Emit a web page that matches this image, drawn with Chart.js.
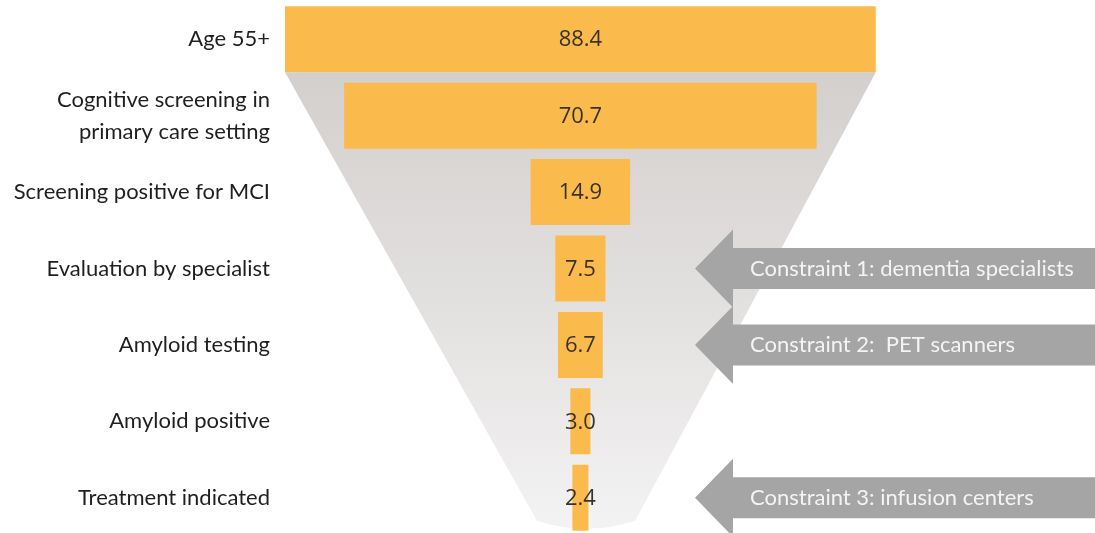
<!DOCTYPE html>
<html>
<head>
<meta charset="utf-8">
<script src="https://cdn.jsdelivr.net/npm/chart.js@4"></script>
<style>
  html, body { margin: 0; padding: 0; background: #ffffff; overflow: hidden; }
  #wrap { width: 1095px; height: 536px; position: relative; }
</style>
</head>
<body>
<div id="wrap"><canvas id="funnel"></canvas></div>
<script>
// Patient pathway stages (millions) and the capacity constraints along it
const stages = [
  'Age 55+',
  ['Cognitive screening in', 'primary care setting'],
  'Screening positive for MCI',
  'Evaluation by specialist',
  'Amyloid testing',
  'Amyloid positive',
  'Treatment indicated'
];
const counts = [88.4, 70.7, 14.9, 7.5, 6.7, 3.0, 2.4];
const constraintLabels = [
  'Constraint 1: dementia specialists',
  'Constraint 2:  PET scanners',
  'Constraint 3: infusion centers'
];
const constraintStages = [3, 4, 6];

// Each bar is centred on zero so the stack reads as a funnel
const centredBars = counts.map(v => [-v / 2, v / 2]);

// Grey cone behind the bars, running from the widest bar down to a narrow neck
const funnelBackdrop = {
  id: 'funnelBackdrop',
  beforeDatasetsDraw(chart) {
    const meta = chart.getDatasetMeta(0);
    const first = meta.data[0];
    const last = meta.data[meta.data.length - 1];
    const xs = chart.scales.x;
    const ctx = chart.ctx;
    const top = first.y + first.height / 2;
    const bottom = last.y + last.height / 2 - 10;
    const l0 = xs.getPixelForValue(-counts[0] / 2);
    const r0 = xs.getPixelForValue(counts[0] / 2);
    const l1 = xs.getPixelForValue(-6.5);
    const r1 = xs.getPixelForValue(8.2);
    const g = ctx.createLinearGradient(0, top, 0, bottom);
    g.addColorStop(0, '#d3cfcd');
    g.addColorStop(0.5, '#e2e0df');
    g.addColorStop(1, '#f3f2f2');
    ctx.save();
    ctx.beginPath();
    ctx.moveTo(l0, top);
    ctx.lineTo(r0, top);
    ctx.lineTo(r1, bottom);
    ctx.quadraticCurveTo((l1 + r1) / 2, bottom + 16, l1, bottom);
    ctx.closePath();
    ctx.fillStyle = g;
    ctx.fill();
    ctx.restore();
  }
};

// Value printed in the middle of every bar
const barValues = {
  id: 'barValues',
  afterDatasetsDraw(chart) {
    const meta = chart.getDatasetMeta(0);
    const ctx = chart.ctx;
    ctx.save();
    ctx.font = '22px "Open Sans", sans-serif';
    ctx.fillStyle = '#3a3228';
    ctx.textAlign = 'center';
    ctx.textBaseline = 'middle';
    meta.data.forEach((bar, i) => {
      ctx.fillText(counts[i].toFixed(1), (bar.x + bar.base) / 2, bar.y + 1);
    });
    ctx.restore();
  }
};

// Left-pointing grey arrows marking each constraint
const constraintArrows = {
  id: 'constraintArrows',
  afterDatasetsDraw(chart, args, opts) {
    const ctx = chart.ctx;
    const ys = chart.scales.y;
    const right = chart.width;
    ctx.save();
    constraintStages.forEach((stage, i) => {
      const cy = ys.getPixelForValue(stage);
      ctx.beginPath();
      ctx.moveTo(opts.tipX, cy);
      ctx.lineTo(opts.headX, cy - opts.headHalf);
      ctx.lineTo(opts.headX, cy - opts.bodyHalf);
      ctx.lineTo(right, cy - opts.bodyHalf);
      ctx.lineTo(right, cy + opts.bodyHalf);
      ctx.lineTo(opts.headX, cy + opts.bodyHalf);
      ctx.lineTo(opts.headX, cy + opts.headHalf);
      ctx.closePath();
      ctx.fillStyle = opts.color;
      ctx.fill();
      ctx.font = opts.font;
      ctx.fillStyle = opts.textColor;
      ctx.textAlign = 'left';
      ctx.textBaseline = 'middle';
      ctx.fillText(constraintLabels[i], opts.textX, cy);
    });
    ctx.restore();
  }
};

new Chart(document.getElementById('funnel'), {
  type: 'bar',
  data: {
    labels: stages,
    datasets: [{
      data: centredBars,
      backgroundColor: '#fbbb4c',
      borderWidth: 0,
      barPercentage: 0.864,
      categoryPercentage: 1
    }]
  },
  options: {
    indexAxis: 'y',
    responsive: true,
    maintainAspectRatio: false,
    animation: false,
    layout: { padding: { top: 1, bottom: 0, left: 0, right: 0 } },
    plugins: {
      legend: { display: false },
      tooltip: { enabled: false },
      constraintArrows: {
        tipX: 695, headX: 733, headHalf: 39, bodyHalf: 20.5,
        textX: 750,
        color: '#a5a5a5',
        textColor: '#f4f4f4',
        font: '22px Lato, sans-serif'
      }
    },
    scales: {
      x: {
        display: false,
        min: -44.2,
        max: 77
      },
      y: {
        grid: { display: false, drawTicks: false },
        border: { display: false },
        ticks: {
          padding: 15,
          color: '#1f1f1f',
          font: { family: 'Lato', size: 22, lineHeight: 1.45 }
        },
        afterFit(scale) {
          scale.width = 285;
          scale.paddingTop = 0;
          scale.paddingBottom = 0;
        }
      }
    }
  },
  plugins: [funnelBackdrop, barValues, constraintArrows]
});
</script>
</body>
</html>
